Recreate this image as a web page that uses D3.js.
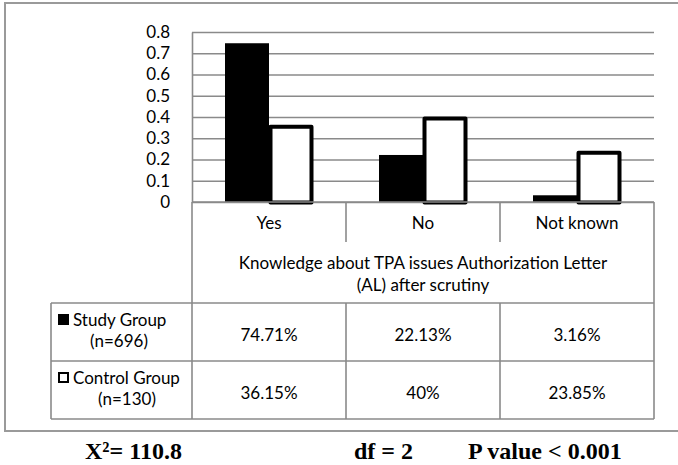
<!DOCTYPE html>
<html>
<head>
<meta charset="utf-8">
<script src="https://cdn.jsdelivr.net/npm/d3@7"></script>
<style>
  html, body { margin: 0; padding: 0; background: #fff; }
  svg { display: block; }
  text { font-family: Lato, "Open Sans", sans-serif; fill: #000; }
  text.stat { font-family: "Liberation Serif", "DejaVu Serif", serif; font-weight: bold; }
</style>
</head>
<body>
<svg id="chart" width="678" height="465"></svg>
<script>
// Chart data
const categories = ["Yes", "No", "Not known"];
const seriesNames = ["Study Group", "Control Group"];
const sampleSizes = ["(n=696)", "(n=130)"];
const studyValues = [0.7471, 0.2213, 0.0316];
const controlValues = [0.3615, 0.40, 0.2385];
const yTicks = [0, 0.1, 0.2, 0.3, 0.4, 0.5, 0.6, 0.7, 0.8];
const axisTitle = ["Knowledge about TPA issues Authorization Letter", "(AL) after scrutiny"];
const footnotes = [
  { parts: ["X", "²", "= 110.8"] },
  { parts: ["df = 2"] },
  { parts: ["P value < 0.001"] }
];

const seriesValues = [studyValues, controlValues];

const svg = d3.select("#chart");
const gridColor = "#8a8a8a";
const fs = 17;

// Layout
const plotLeft = 192, plotRight = 654, plotTop = 32, plotBottom = 202;
const catRowBottom = 303, rowH = 58, legendLeft = 51;

// Outer frame
svg.append("rect")
  .attr("x", 5).attr("y", 3)
  .attr("width", 700).attr("height", 428)
  .attr("fill", "none")
  .attr("stroke", "#9a9a9a")
  .attr("stroke-width", 2);

// Scales
const y = d3.scaleLinear().domain([0, 0.8]).range([plotBottom, plotTop]);
const x = d3.scaleBand().domain(categories).range([plotLeft, plotRight]).padding(0);
const xs = d3.scaleBand().domain(seriesNames).range([0, x.bandwidth()])
  .paddingInner(0).paddingOuter(0.75);

// Y axis with gridlines
const yAxis = d3.axisLeft(y)
  .tickValues(yTicks)
  .tickFormat(d3.format(""))
  .tickSizeInner(-(plotRight - plotLeft))
  .tickSizeOuter(0)
  .tickPadding(22);

const gy = svg.append("g")
  .attr("transform", `translate(${plotLeft},0)`)
  .call(yAxis);
gy.selectAll(".tick line").attr("stroke", gridColor).attr("stroke-width", 1.4);
gy.select(".domain").attr("stroke", gridColor).attr("stroke-width", 1.6);
gy.selectAll(".tick text")
  .style("font-size", "17px")
  .attr("fill", "#000");

// Bars
const groups = svg.append("g").selectAll("g")
  .data(categories)
  .join("g")
  .attr("transform", d => `translate(${x(d)},0)`);

groups.each(function(cat, ci) {
  const g = d3.select(this);
  seriesNames.forEach((s, si) => {
    const v = seriesValues[si][ci];
    if (si === 0) {
      g.append("rect")
        .attr("x", xs(s))
        .attr("y", y(v))
        .attr("width", xs.bandwidth())
        .attr("height", y(0) - y(v))
        .attr("fill", "#000");
    } else {
      g.append("rect")
        .attr("x", xs(s) + 1.5)
        .attr("y", y(v) + 1.5)
        .attr("width", xs.bandwidth() - 3)
        .attr("height", y(0) - y(v) - 1)
        .attr("fill", "#fff")
        .attr("stroke", "#000")
        .attr("stroke-width", 4)
        .attr("stroke-linejoin", "round");
    }
  });
});

// Data table below the plot
const tbl = svg.append("g").attr("fill", "none").attr("stroke", gridColor).attr("stroke-width", 1.6);

tbl.append("line").attr("x1", plotLeft).attr("x2", plotLeft).attr("y1", plotBottom).attr("y2", catRowBottom + 2 * rowH);
tbl.append("line").attr("x1", plotRight).attr("x2", plotRight).attr("y1", plotBottom).attr("y2", catRowBottom + 2 * rowH);
categories.slice(1).forEach(c => {
  tbl.append("line").attr("x1", x(c)).attr("x2", x(c)).attr("y1", plotBottom).attr("y2", plotBottom + 40);
  tbl.append("line").attr("x1", x(c)).attr("x2", x(c)).attr("y1", catRowBottom).attr("y2", catRowBottom + 2 * rowH);
});
// zero line across plot
tbl.append("line").attr("x1", plotLeft).attr("x2", plotRight).attr("y1", plotBottom).attr("y2", plotBottom);
// horizontal rules for data rows
[0, 1, 2].forEach(i => {
  tbl.append("line")
    .attr("x1", legendLeft).attr("x2", plotRight)
    .attr("y1", catRowBottom + i * rowH).attr("y2", catRowBottom + i * rowH);
});
tbl.append("line").attr("x1", legendLeft).attr("x2", legendLeft)
  .attr("y1", catRowBottom).attr("y2", catRowBottom + 2 * rowH);

// category labels
svg.append("g").selectAll("text")
  .data(categories)
  .join("text")
  .attr("x", d => x(d) + x.bandwidth() / 2)
  .attr("y", plotBottom + 21)
  .attr("dy", "0.35em")
  .attr("text-anchor", "middle")
  .style("font-size", fs + "px")
  .text(d => d);

// axis title lines
svg.append("g").selectAll("text")
  .data(axisTitle)
  .join("text")
  .attr("x", (plotLeft + plotRight) / 2)
  .attr("y", (d, i) => 263 + i * 22)
  .attr("dy", "0.35em")
  .attr("text-anchor", "middle")
  .style("font-size", fs + "px")
  .text(d => d);

// value cells
const pct = d3.format(".4~p");
seriesValues.forEach((vals, si) => {
  svg.append("g").selectAll("text")
    .data(vals)
    .join("text")
    .attr("x", (d, i) => x(categories[i]) + x.bandwidth() / 2)
    .attr("y", catRowBottom + si * rowH + rowH / 2 + 3)
    .attr("dy", "0.35em")
    .attr("text-anchor", "middle")
    .style("font-size", fs + "px")
    .text(d => pct(d));
});

// legend cells
seriesNames.forEach((s, si) => {
  const top = catRowBottom + si * rowH;
  const key = svg.append("rect")
    .attr("x", 58).attr("y", top + 11)
    .attr("width", 11).attr("height", 11);
  if (si === 0) key.attr("fill", "#000");
  else key.attr("x", 59).attr("y", top + 12).attr("width", 9).attr("height", 9)
    .attr("fill", "#fff").attr("stroke", "#000").attr("stroke-width", 2);
  svg.append("text")
    .attr("x", 73).attr("y", top + 17)
    .attr("dy", "0.35em")
    .style("font-size", fs + "px")
    .text(s);
  svg.append("text")
    .attr("x", si === 0 ? 119 : 127).attr("y", top + 38)
    .attr("dy", "0.35em")
    .attr("text-anchor", "middle")
    .style("font-size", fs + "px")
    .text(sampleSizes[si]);
});

// statistics beneath the chart
const footX = [85, 354, 468];
footnotes.forEach((f, i) => {
  const t = svg.append("text")
    .attr("class", "stat")
    .attr("x", footX[i]).attr("y", 459)
    .style("font-size", "24px");
  f.parts.forEach(p => t.append("tspan").text(p));
});
</script>
</body>
</html>
